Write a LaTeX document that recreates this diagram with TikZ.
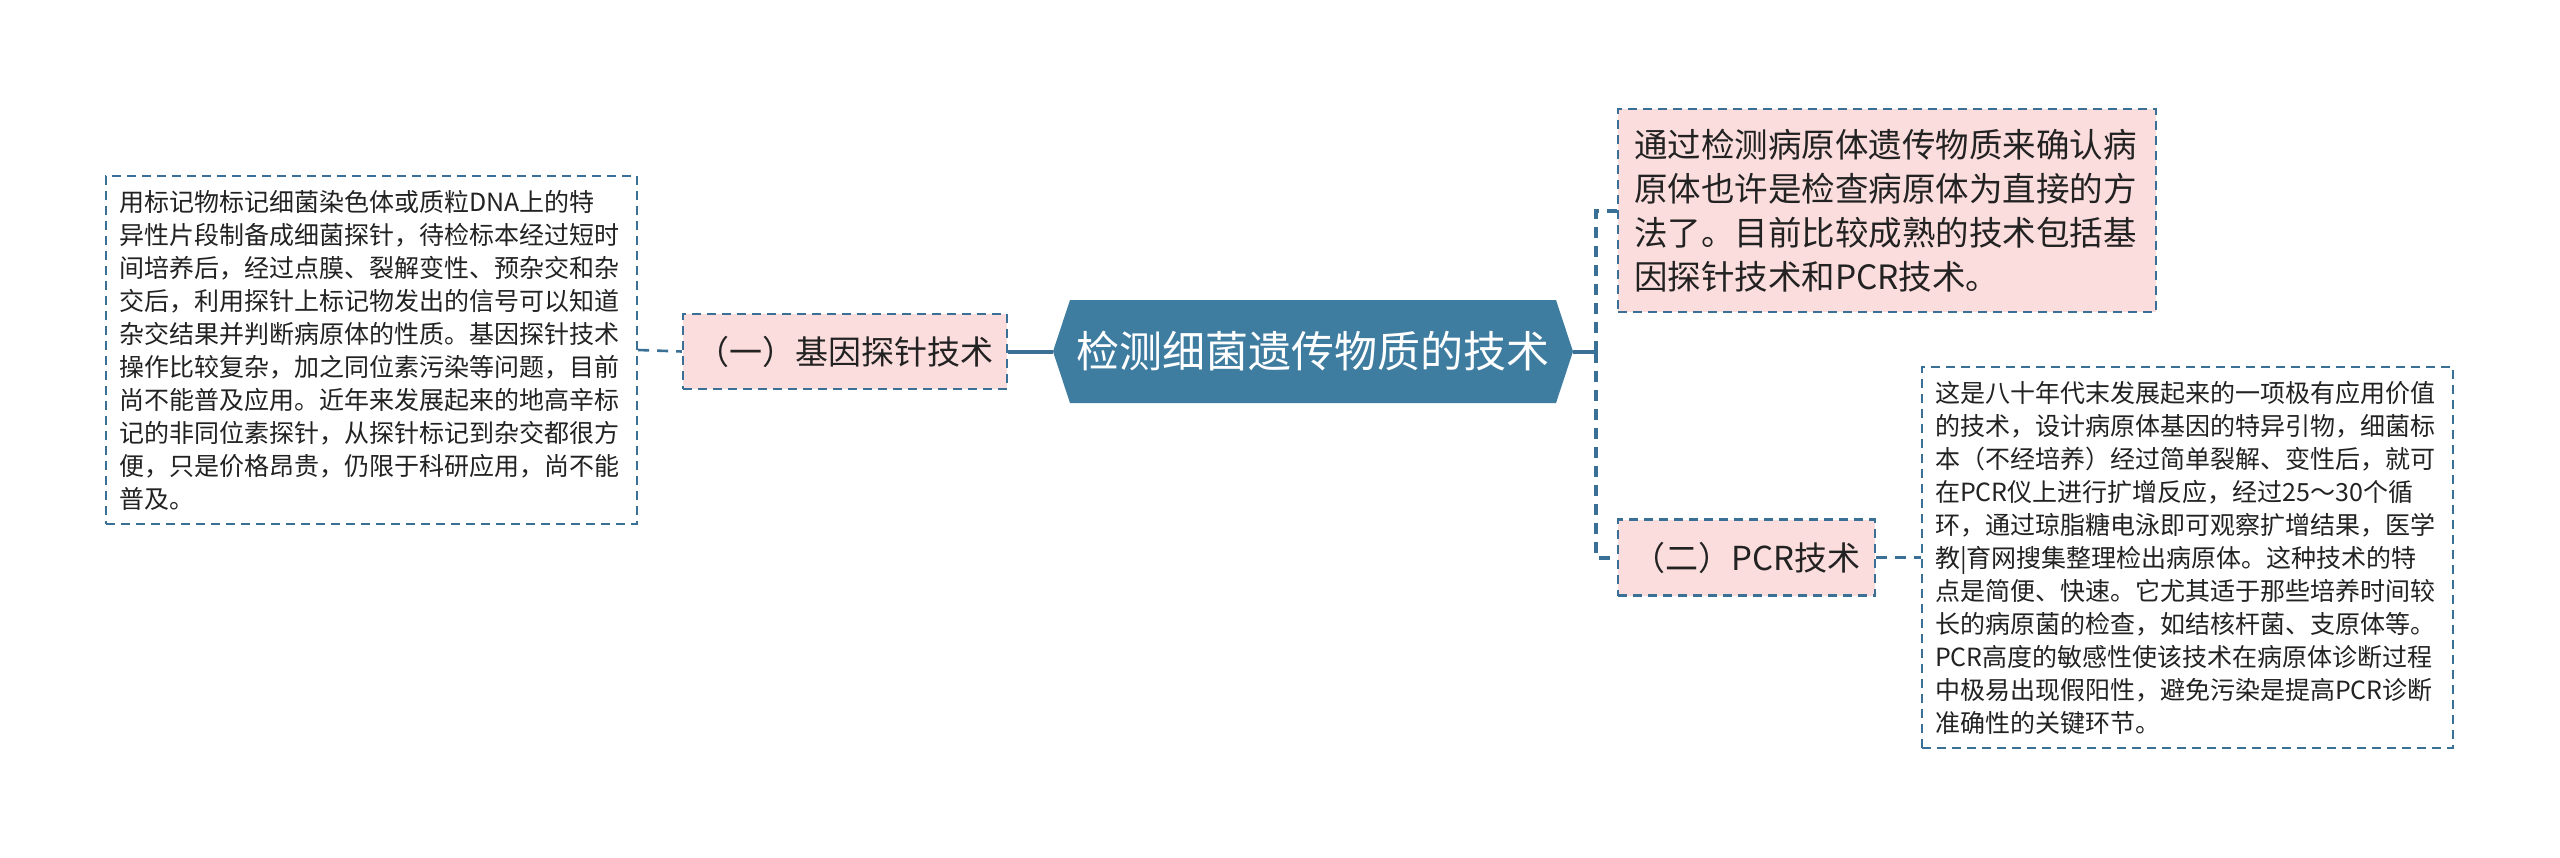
\documentclass[tikz,border=0pt]{standalone}
\usepackage{fontspec}
\setmainfont{Noto Sans CJK SC}
\definecolor{hexfill}{RGB}{62,124,160}
\definecolor{lineblue}{RGB}{58,112,150}
\definecolor{pinkfill}{RGB}{252,221,221}
\definecolor{txt}{RGB}{34,34,34}
\tikzset{
  dbox/.style={draw=lineblue, line width=2.2pt, dash pattern=on 9pt off 6pt, text=txt, inner sep=0pt},
  pinkbox/.style={dbox, fill=pinkfill},
  whitebox/.style={dbox, fill=white},
  bodytext/.style={font=\fontsize{25}{33}\selectfont, align=left},
  conn/.style={draw=lineblue, line width=4pt},
  dconn/.style={draw=lineblue, line width=4pt, dash pattern=on 11pt off 8pt},
  thinconn/.style={draw=lineblue, line width=2.6pt, dash pattern=on 11pt off 8pt},
}
\begin{document}
\begin{tikzpicture}[x=1pt,y=-1pt]
\useasboundingbox (0,0) rectangle (2560,857);
% root hexagon
\fill[hexfill] (1053,351.5) -- (1070,300) -- (1556,300) -- (1573,351.5) -- (1556,403) -- (1070,403) -- cycle;
\coordinate (rootL) at (1053,351.5);
\coordinate (rootR) at (1573,351.5);
\node[text=white, font=\fontsize{43}{50}\selectfont] (root) at (1313,351.5) {检测细菌遗传物质的技术};
% left branch
\node[pinkbox, minimum width=324pt, minimum height=75pt, font=\fontsize{33}{40}\selectfont] (n1) at (845,351.5) {（一）基因探针技术};
\node[whitebox, bodytext, text width=505pt, minimum height=348pt, inner xsep=13pt] (left) at (371.5,350) {用标记物标记细菌染色体或质粒DNA上的特\\异性片段制备成细菌探针，待检标本经过短时\\间培养后，经过点膜、裂解变性、预杂交和杂\\交后，利用探针上标记物发出的信号可以知道\\杂交结果并判断病原体的性质。基因探针技术\\操作比较复杂，加之同位素污染等问题，目前\\尚不能普及应用。近年来发展起来的地高辛标\\记的非同位素探针，从探针标记到杂交都很方\\便，只是价格昂贵，仍限于科研应用，尚不能\\普及。};
% right branches
\node[pinkbox, font=\fontsize{33.5}{44}\selectfont, align=left, text width=506pt, inner xsep=16pt, minimum height=203pt] (top) at (1887,210.5) {通过检测病原体遗传物质来确认病\\原体也许是检查病原体为直接的方\\法了。目前比较成熟的技术包括基\\因探针技术和PCR技术。};
\node[pinkbox, minimum width=257pt, minimum height=76pt, font=\fontsize{33}{40}\selectfont] (pcr) at (1746.5,557.5) {（二）PCR技术};
\node[whitebox, bodytext, text width=505pt, minimum height=381pt, inner xsep=13pt] (right) at (2187.5,557.5) {这是八十年代末发展起来的一项极有应用价值\\的技术，设计病原体基因的特异引物，细菌标\\本（不经培养）经过简单裂解、变性后，就可\\在PCR仪上进行扩增反应，经过25～30个循\\环，通过琼脂糖电泳即可观察扩增结果，医学\\教|育网搜集整理检出病原体。这种技术的特\\点是简便、快速。它尤其适于那些培养时间较\\长的病原菌的检查，如结核杆菌、支原体等。\\PCR高度的敏感性使该技术在病原体诊断过程\\中极易出现假阳性，避免污染是提高PCR诊断\\准确性的关键环节。};
% connectors
\coordinate (jr) at (1596,351.5);
\draw[conn] (rootR) -- (jr);
\draw[dconn] (jr) |- (top.west);
\draw[dconn] (jr) |- (pcr.west);
\draw[conn] (n1.east) -- (rootL);
\draw[thinconn] (left.east) -- (n1.west);
\draw[thinconn] (pcr.east) -- (right.west);
\end{tikzpicture}
\end{document}
